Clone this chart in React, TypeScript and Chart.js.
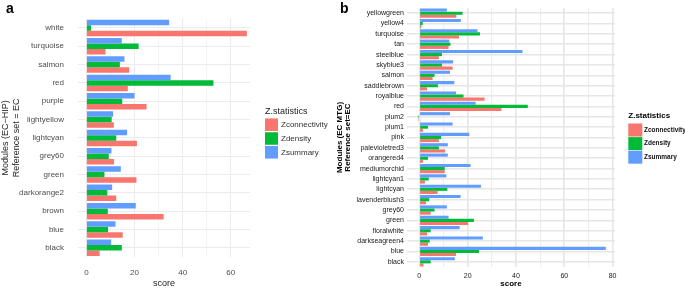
import React, { useEffect, useRef } from 'react';
import { Chart, registerables } from 'chart.js';

Chart.register(...registerables);

const FONT = '"Liberation Sans", Arial, Helvetica, sans-serif';

// ---- shared series info ----
const seriesLabels = ['Zconnectivity', 'Zdensity', 'Zsummary'];
const seriesColors = ['#F8766D', '#00BA38', '#619CFF'];
const legendTitle = 'Z.statistics';

// ---- panel a (EC-HIP) ----
const categoriesA = ['white', 'turquoise', 'salmon', 'red', 'purple', 'lightyellow', 'lightcyan', 'grey60', 'green', 'darkorange2', 'brown', 'blue', 'black'];
const zConnectivityA = [66.7, 7.9, 17.8, 17.2, 25.0, 11.4, 21.0, 11.5, 20.8, 12.4, 32.1, 15.1, 5.5];
const zDensityA = [1.9, 21.7, 13.9, 52.8, 14.9, 10.5, 12.4, 9.3, 7.5, 8.7, 8.9, 9.0, 14.7];
const zSummaryA = [34.4, 14.7, 15.8, 35.0, 20.0, 11.1, 16.9, 10.4, 14.3, 10.7, 20.5, 12.1, 10.3];
const xTicksA = [0, 10, 20, 30, 40, 50, 60];
const yTitleA = ['Modules (EC\u2212HIP)', 'Reference set = EC'];

// ---- panel b (EC MTG) ----
const categoriesB = ['yellowgreen', 'yellow4', 'turquoise', 'tan', 'steelblue', 'skyblue3', 'salmon', 'saddlebrown', 'royalblue', 'red', 'plum2', 'plum1', 'pink', 'palevioletred3', 'orangered4', 'mediumorchid', 'lightcyan1', 'lightcyan', 'lavenderblush3', 'grey60', 'green', 'floralwhite', 'darkseagreen4', 'blue', 'black'];
const zConnectivityB = [15.3, 0.8, 16.4, 12.1, 8.1, 13.8, 5.5, 3.2, 27.0, 34.0, -0.5, 1.5, 8.1, 10.7, 1.5, 10.5, 2.3, 7.6, 2.8, 4.7, 20.2, 3.2, 3.6, 15.2, 1.7];
const zDensityB = [17.9, 1.4, 25.1, 12.9, 9.4, 9.4, 6.3, 7.7, 18.3, 44.9, -0.6, 3.6, 9.0, 8.1, 3.6, 10.5, 3.9, 11.6, 4.1, 6.3, 22.6, 4.7, 4.3, 24.7, 4.7];
const zSummaryB = [11.4, 17.2, 24.1, 12.4, 42.7, 14.0, 12.7, 14.5, 15.2, 23.3, 12.7, 13.8, 20.7, 11.8, 11.8, 21.2, 11.2, 25.5, 17.1, 11.4, 12.1, 16.7, 26.3, 77.2, 14.7];
const xTicksB = [0, 10, 20, 30, 40, 50, 60, 70, 80];
const yTitleB = ['Modules (EC MTG)', 'Reference set=EC'];

const xTitle = 'score';

type PanelCfg = {
  width: number;
  height: number;
  categories: string[];
  conn: number[];
  dens: number[];
  summ: number[];
  xTicks: number[];
  xMin: number;
  xMax: number;
  yTitle: string[];
  style: any;
};

function makeLegendPlugin(st: any) {
  return {
    id: 'zlegend',
    afterDraw(chart: any) {
      const ctx = chart.ctx;
      ctx.save();
      ctx.textAlign = 'left';
      ctx.textBaseline = 'middle';
      ctx.fillStyle = st.legendTitleColor;
      ctx.font = st.legendTitleFont;
      ctx.fillText(legendTitle, st.legX, st.legTitleY);
      const ds = chart.data.datasets.slice().reverse();
      ds.forEach((d: any, i: number) => {
        const cy = st.legFirstY + i * st.legRowH;
        ctx.fillStyle = d.backgroundColor;
        ctx.fillRect(st.legX, cy - st.legBoxH / 2, st.legBoxW, st.legBoxH);
        ctx.fillStyle = st.legendTextColor;
        ctx.font = st.legendFont;
        ctx.fillText(d.label, st.legTextX, cy);
      });
      ctx.restore();
    },
  };
}

function Panel({ cfg, left }: { cfg: PanelCfg; left: number }) {
  const ref = useRef<HTMLCanvasElement | null>(null);
  useEffect(() => {
    if (!ref.current) return;
    const st = cfg.style;
    const chart = new Chart(ref.current, {
      type: 'bar',
      data: {
        labels: cfg.categories,
        datasets: [
          { label: seriesLabels[2], data: cfg.summ, backgroundColor: seriesColors[2] },
          { label: seriesLabels[1], data: cfg.dens, backgroundColor: seriesColors[1] },
          { label: seriesLabels[0], data: cfg.conn, backgroundColor: seriesColors[0] },
        ],
      },
      options: {
        indexAxis: 'y',
        responsive: false,
        animation: false,
        devicePixelRatio: 1,
        layout: { padding: { left: 0, right: st.padRight, top: st.padTop, bottom: 0 } },
        datasets: { bar: { categoryPercentage: 0.9, barPercentage: 1.0, borderWidth: 0 } },
        plugins: {
          legend: { display: false },
          tooltip: { enabled: false },
        },
        scales: {
          x: {
            type: 'linear',
            min: cfg.xMin,
            max: cfg.xMax,
            afterBuildTicks: (scale: any) => {
              scale.ticks = cfg.xTicks.map((v) => ({ value: v }));
            },
            afterFit: (scale: any) => {
              scale.height = st.xAxisH;
            },
            ticks: {
              autoSkip: false,
              maxRotation: 0,
              padding: st.xTickPad,
              color: st.tickColor,
              font: { family: FONT, size: st.tickSize, weight: st.tickWeight },
              callback: (v: any) => (Number(v) % 20 === 0 ? String(v) : ''),
            },
            grid: {
              drawTicks: false,
              color: (c: any) => (c.tick && c.tick.value % 20 === 0 ? st.gridMajor : st.gridMinor),
              lineWidth: (c: any) => (c.tick && c.tick.value % 20 === 0 ? st.gridMajorW : st.gridMinorW),
            },
            border: { display: false },
            title: {
              display: true,
              text: xTitle,
              color: st.titleColor,
              padding: { top: 0, bottom: 0 },
              font: { family: FONT, size: st.xTitleSize, weight: st.titleWeight, lineHeight: 1 },
            },
          },
          y: {
            type: 'category',
            offset: true,
            afterFit: (scale: any) => {
              scale.width = st.yAxisW;
            },
            ticks: {
              autoSkip: false,
              padding: st.yTickPad,
              color: st.tickColor,
              font: { family: FONT, size: st.yTickSize, weight: st.tickWeight },
            },
            grid: {
              offset: false,
              drawTicks: false,
              color: st.gridMajor,
              lineWidth: st.gridMajorW,
            },
            border: { display: false },
            title: {
              display: true,
              text: cfg.yTitle,
              color: st.titleColor,
              padding: { top: st.yTitlePad, bottom: 0 },
              font: { family: FONT, size: st.yTitleSize, weight: st.titleWeight, lineHeight: st.yTitleLH },
            },
          },
        },
      },
      plugins: [makeLegendPlugin(st)],
    } as any);
    return () => chart.destroy();
  }, [cfg]);
  return (
    <canvas
      ref={ref}
      width={cfg.width}
      height={cfg.height}
      style={{ position: 'absolute', left, top: 0, width: cfg.width, height: cfg.height }}
    />
  );
}

const panelA: PanelCfg = {
  width: 334,
  height: 288,
  categories: categoriesA,
  conn: zConnectivityA,
  dens: zDensityA,
  summ: zSummaryA,
  xTicks: xTicksA,
  xMin: -3.5,
  xMax: 68,
  yTitle: yTitleA,
  style: {
    padRight: 84,
    padTop: 9,
    xAxisH: 31,
    yAxisW: 78,
    xTickPad: 11,
    yTickPad: 14,
    tickColor: '#4d4d4d',
    tickSize: 8,
    yTickSize: 8,
    tickWeight: 'normal',
    titleColor: '#222222',
    titleWeight: 'normal',
    xTitleSize: 9,
    yTitleSize: 9,
    yTitleLH: 1.2,
    yTitlePad: 0,
    gridMajor: '#ebebeb',
    gridMinor: '#f4f4f4',
    gridMajorW: 1,
    gridMinorW: 1,
    legX: 265,
    legTitleY: 112,
    legFirstY: 124.7,
    legRowH: 13.8,
    legBoxW: 13,
    legBoxH: 12.5,
    legTextX: 281,
    legendTitleFont: `normal 9px ${FONT}`,
    legendFont: `normal 8px ${FONT}`,
    legendTitleColor: '#222222',
    legendTextColor: '#333333',
  },
};

const panelB: PanelCfg = {
  width: 351,
  height: 288,
  categories: categoriesB,
  conn: zConnectivityB,
  dens: zDensityB,
  summ: zSummaryB,
  xTicks: xTicksB,
  xMin: -5.1,
  xMax: 81,
  yTitle: yTitleB,
  style: {
    padRight: 70,
    padTop: 8,
    xAxisH: 21,
    yAxisW: 73,
    xTickPad: 5,
    yTickPad: 3,
    tickColor: '#1a1a1a',
    tickSize: 7,
    yTickSize: 7,
    tickWeight: 'normal',
    titleColor: '#000000',
    titleWeight: 'bold',
    xTitleSize: 8,
    yTitleSize: 8,
    yTitleLH: 1,
    yTitlePad: 2,
    gridMajor: '#e6e6e6',
    gridMinor: '#eeeeee',
    gridMajorW: 1.6,
    gridMinorW: 1.2,
    legX: 294.3,
    legTitleY: 116,
    legFirstY: 130,
    legRowH: 13.6,
    legBoxW: 14,
    legBoxH: 13,
    legTextX: 310,
    legendTitleFont: `bold 8px ${FONT}`,
    legendFont: `bold 6.5px ${FONT}`,
    legendTitleColor: '#000000',
    legendTextColor: '#111111',
  },
};

export default function App() {
  const labelStyle: React.CSSProperties = {
    position: 'absolute',
    top: 1,
    fontFamily: FONT,
    fontWeight: 'bold',
    fontSize: 14,
    lineHeight: '14px',
    color: '#000',
  };
  return (
    <div style={{ position: 'fixed', left: 0, top: 0, width: 685, height: 288, background: '#fff', overflow: 'hidden' }}>
      <Panel cfg={panelA} left={0} />
      <Panel cfg={panelB} left={334} />
      <div style={{ ...labelStyle, left: 6 }}>a</div>
      <div style={{ ...labelStyle, left: 340 }}>b</div>
    </div>
  );
}
